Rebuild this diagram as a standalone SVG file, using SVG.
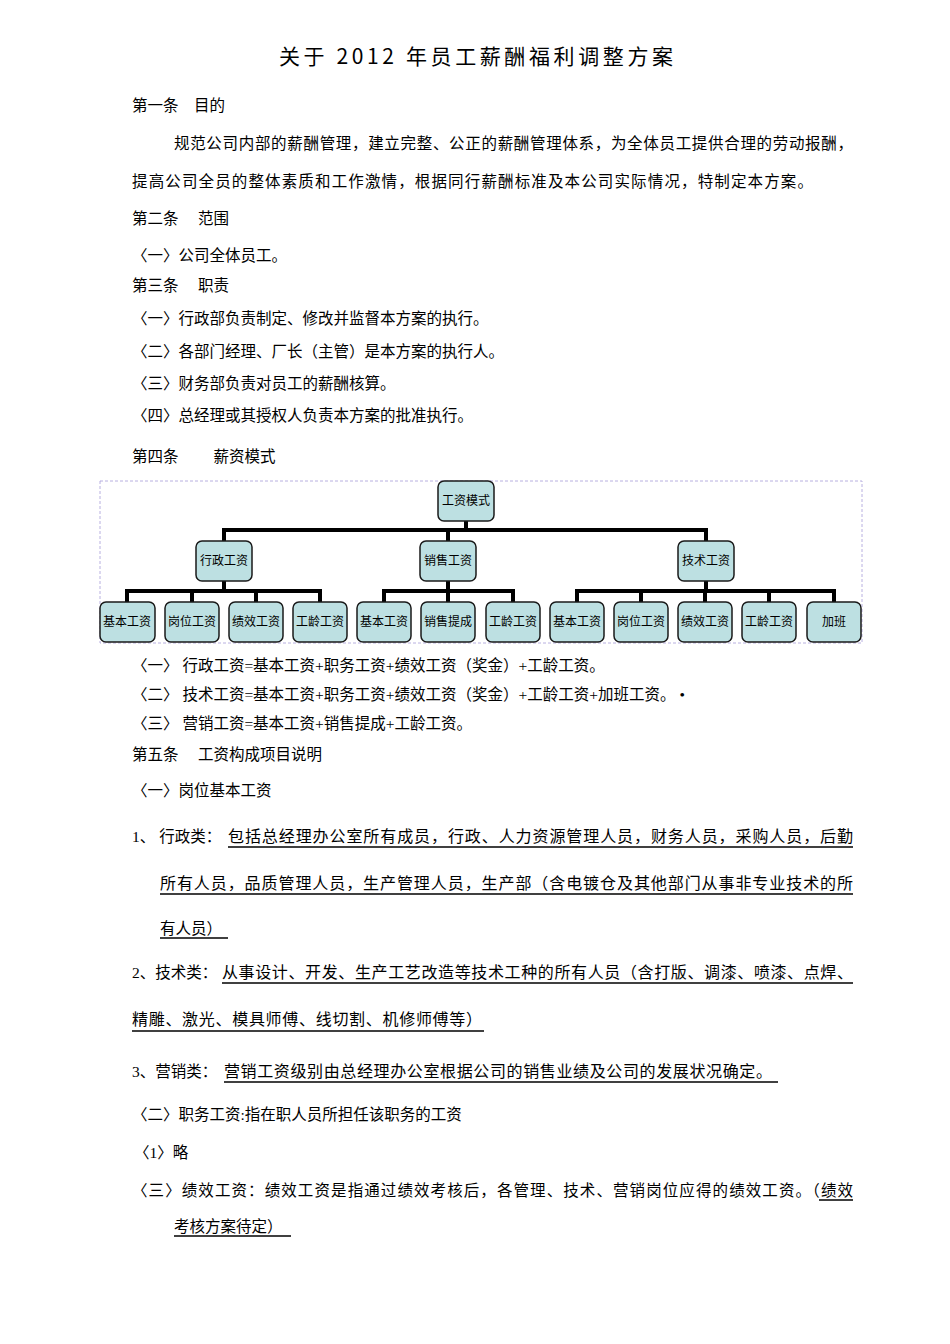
<svg xmlns="http://www.w3.org/2000/svg" width="950" height="1344" viewBox="0 0 950 1344">
<style>
text{font-family:"Liberation Serif","Noto Sans CJK SC",serif;font-size:15.5px;fill:#000}
.s{font-family:"Noto Sans CJK SC","Liberation Sans",sans-serif;font-size:16px}
.t{font-size:21px;font-family:"Noto Sans CJK SC",sans-serif}
.n rect{fill:#bde0e2;stroke:#1a1a1a;stroke-width:1.5}
.n text{font-size:12px;text-anchor:middle}
.c{stroke:#000;stroke-width:4;fill:none}
.u{stroke:#000;stroke-width:1.3}
</style>
<rect width="950" height="1344" fill="#fff"/>
<text class="t" x="279" y="64" textLength="394">关于 2012 年员工薪酬福利调整方案</text>
<text x="132" y="111">第一条　目的</text>
<text x="174" y="149" textLength="679">规范公司内部的薪酬管理，建立完整、公正的薪酬管理体系，为全体员工提供合理的劳动报酬，</text>
<text x="132" y="187" textLength="681">提高公司全员的整体素质和工作激情，根据同行薪酬标准及本公司实际情况，特制定本方案。</text>
<text x="132" y="224">第二条　 范围</text>
<text x="132" y="261">〈一〉公司全体员工。</text>
<text x="132" y="291">第三条　 职责</text>
<text x="132" y="324">〈一〉行政部负责制定、修改并监督本方案的执行。</text>
<text x="132" y="357">〈二〉各部门经理、厂长（主管）是本方案的执行人。</text>
<text x="132" y="389">〈三〉财务部负责对员工的薪酬核算。</text>
<text x="132" y="421">〈四〉总经理或其授权人负责本方案的批准执行。</text>
<text x="132" y="462">第四条　　 薪资模式</text>
<rect x="100" y="481" width="762" height="162" fill="none" stroke="#b8b0e0" stroke-dasharray="3,2"/>
<g id="connectors" class="c">
<path d="M466 521V530M224 541V530H706V541M448 530V541"/>
<path d="M224 581V591M127 602V591H320V602M192 591V602M256 591V602"/>
<path d="M448 581V591M384 602V591H513V602M448 591V602"/>
<path d="M706 581V591M577 602V591H834V602M641 591V602M705 591V602M769 591V602"/>
</g>
<g id="n0" class="n"><rect x="438" y="481" width="56" height="40" rx="6"/><text x="466" y="505">工资模式</text></g>
<g id="n1" class="n"><rect x="196" y="541" width="56" height="40" rx="6"/><text x="224" y="565">行政工资</text></g>
<g id="n2" class="n"><rect x="420" y="541" width="56" height="40" rx="6"/><text x="448" y="565">销售工资</text></g>
<g id="n3" class="n"><rect x="678" y="541" width="56" height="40" rx="6"/><text x="706" y="565">技术工资</text></g>
<g id="n4" class="n"><rect x="100" y="602" width="55" height="40" rx="6"/><text x="127" y="626">基本工资</text></g>
<g id="n5" class="n"><rect x="165" y="602" width="54" height="40" rx="6"/><text x="192" y="626">岗位工资</text></g>
<g id="n6" class="n"><rect x="229" y="602" width="54" height="40" rx="6"/><text x="256" y="626">绩效工资</text></g>
<g id="n7" class="n"><rect x="293" y="602" width="54" height="40" rx="6"/><text x="320" y="626">工龄工资</text></g>
<g id="n8" class="n"><rect x="357" y="602" width="54" height="40" rx="6"/><text x="384" y="626">基本工资</text></g>
<g id="n9" class="n"><rect x="421" y="602" width="54" height="40" rx="6"/><text x="448" y="626">销售提成</text></g>
<g id="n10" class="n"><rect x="486" y="602" width="54" height="40" rx="6"/><text x="513" y="626">工龄工资</text></g>
<g id="n11" class="n"><rect x="550" y="602" width="54" height="40" rx="6"/><text x="577" y="626">基本工资</text></g>
<g id="n12" class="n"><rect x="614" y="602" width="54" height="40" rx="6"/><text x="641" y="626">岗位工资</text></g>
<g id="n13" class="n"><rect x="678" y="602" width="54" height="40" rx="6"/><text x="705" y="626">绩效工资</text></g>
<g id="n14" class="n"><rect x="742" y="602" width="54" height="40" rx="6"/><text x="769" y="626">工龄工资</text></g>
<g id="n15" class="n"><rect x="807" y="602" width="54" height="40" rx="6"/><text x="834" y="626">加班</text></g>
<text x="132" y="671">〈一〉 行政工资=基本工资+职务工资+绩效工资（奖金）+工龄工资。</text>
<text x="132" y="700">〈二〉 技术工资=基本工资+职务工资+绩效工资（奖金）+工龄工资+加班工资。 •</text>
<text x="132" y="729">〈三〉 营销工资=基本工资+销售提成+工龄工资。</text>
<text x="132" y="760">第五条　 工资构成项目说明</text>
<text x="132" y="796">〈一〉岗位基本工资</text>
<text x="132" y="842">1、 行政类：</text>
<text class="s" x="228" y="842" textLength="625">包括总经理办公室所有成员，行政、人力资源管理人员，财务人员，采购人员，后勤</text>
<line class="u" x1="228" y1="847" x2="853" y2="847"/>
<text class="s" x="160" y="889" textLength="693">所有人员，品质管理人员，生产管理人员，生产部（含电镀仓及其他部门从事非专业技术的所</text>
<line class="u" x1="160" y1="894" x2="853" y2="894"/>
<text x="160" y="934">有人员）</text>
<line class="u" x1="160" y1="938" x2="228" y2="938"/>
<text x="132" y="978">2、技术类：</text>
<text class="s" x="222" y="978" textLength="631">从事设计、开发、生产工艺改造等技术工种的所有人员（含打版、调漆、喷漆、点焊、</text>
<line class="u" x1="222" y1="983" x2="853" y2="983"/>
<text class="s" x="132" y="1025" textLength="350">精雕、激光、模具师傅、线切割、机修师傅等）</text>
<line class="u" x1="132" y1="1031" x2="484" y2="1031"/>
<text x="132" y="1077">3、营销类：</text>
<text class="s" x="224" y="1077" textLength="548">营销工资级别由总经理办公室根据公司的销售业绩及公司的发展状况确定。</text>
<line class="u" x1="224" y1="1082" x2="778" y2="1082"/>
<text x="132" y="1120">〈二〉职务工资:指在职人员所担任该职务的工资</text>
<text x="134" y="1158">〈1〉略</text>
<text x="132" y="1196" textLength="721">〈三〉绩效工资：绩效工资是指通过绩效考核后，各管理、技术、营销岗位应得的绩效工资。（绩效</text>
<line class="u" x1="819" y1="1200" x2="853" y2="1200"/>
<text x="174" y="1232">考核方案待定）</text>
<line class="u" x1="174" y1="1236" x2="291" y2="1236"/>
</svg>
